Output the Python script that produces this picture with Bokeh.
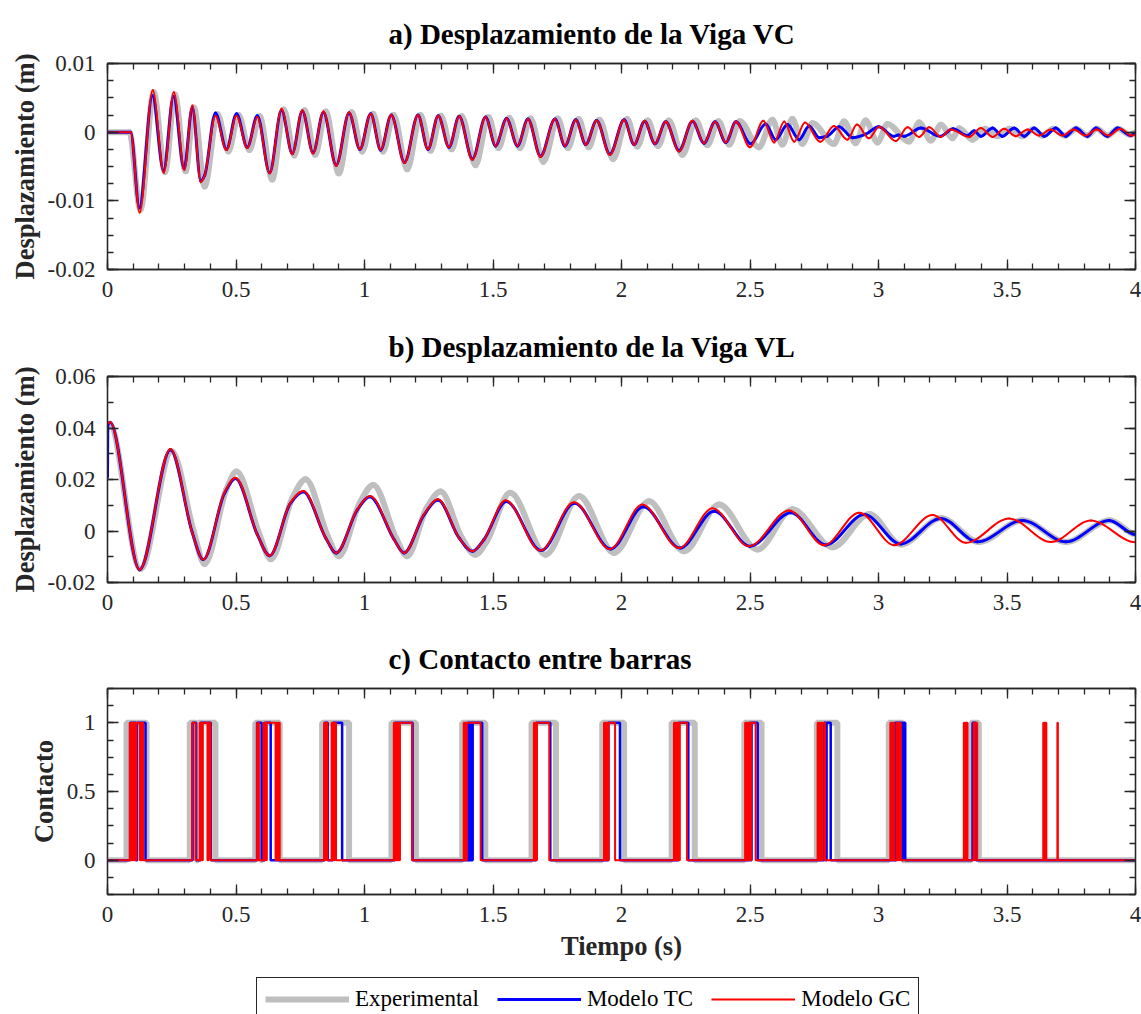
import numpy as np
from bokeh.plotting import figure
from bokeh.models import FixedTicker, LinearAxis, Range1d, Legend, LegendItem
from bokeh.layouts import column
from bokeh.embed import file_html
from bokeh.resources import INLINE

# ---------------- data ----------------
x_ticks = [0, 0.5, 1, 1.5, 2, 2.5, 3, 3.5, 4]
x_tick_labels = ["0", "0.5", "1", "1.5", "2", "2.5", "3", "3.5", "4"]

a_ticks = [-0.02, -0.01, 0, 0.01]
a_tick_labels = ["-0.02", "-0.01", "0", "0.01"]
b_ticks = [-0.02, 0, 0.02, 0.04, 0.06]
b_tick_labels = ["-0.02", "0", "0.02", "0.04", "0.06"]
c_ticks = [0, 0.5, 1]
c_tick_labels = ["0", "0.5", "1"]

# a) VC displacement: extrema (time s, displacement m)
a_exp_t = [0.000, 0.085, 0.128, 0.180, 0.224, 0.262, 0.304, 0.336, 0.378, 0.428,
           0.470, 0.510, 0.552, 0.592, 0.641, 0.686, 0.727, 0.767, 0.808, 0.849,
           0.900, 0.950, 0.991, 1.033, 1.072, 1.113, 1.166, 1.218, 1.257, 1.297,
           1.339, 1.378, 1.432, 1.482, 1.521, 1.563, 1.605, 1.646, 1.696, 1.752,
           1.791, 1.833, 1.872, 1.914, 1.967, 2.022, 2.061, 2.102, 2.142, 2.184,
           2.237, 2.289, 2.334, 2.377, 2.419, 2.460, 2.535, 2.587, 2.626, 2.665,
           2.704, 2.743, 2.827, 2.866, 2.911, 2.950, 2.996, 3.035, 3.119, 3.158,
           3.204, 3.243, 3.288, 3.314, 3.366, 3.415, 3.463, 3.510, 3.560, 3.600,
           3.638, 3.680, 3.725, 3.770, 3.812, 3.850, 3.892, 3.932, 3.980, 4.000]
a_exp_v = [0.0, 0.0, -0.0113, 0.0058, -0.0058, 0.0055, -0.0057, 0.0036, -0.0079, 0.0026,
           -0.0028, 0.0025, -0.0026, 0.0023, -0.0069, 0.0033, -0.0034, 0.0032, -0.0033, 0.0030,
           -0.0060, 0.0029, -0.0028, 0.0027, -0.0028, 0.0025, -0.0054, 0.0025, -0.0027, 0.0024,
           -0.0025, 0.0023, -0.0048, 0.0022, -0.0023, 0.0021, -0.0023, 0.0020, -0.0043, 0.0020,
           -0.0023, 0.0019, -0.0022, 0.0018, -0.0039, 0.0019, -0.0021, 0.0017, -0.0020, 0.0017,
           -0.0033, 0.0017, -0.0019, 0.0016, -0.0018, 0.0016, -0.0022, 0.0018, -0.0018, 0.0019,
           -0.0017, 0.0013, -0.0017, 0.00155, -0.0016, 0.0017, -0.0015, 0.0012, -0.00137, 0.0014,
           -0.00122, 0.00107, -0.00088, 0.00058, -0.0011, 0.0005, -0.0006, 0.0005, -0.0006, 0.0004,
           -0.0005, 0.0005, -0.0005, 0.0005, -0.0005, 0.0005, -0.0005, 0.0005, -0.0004, 0.0]

a_tc_t = [0.000, 0.090, 0.124, 0.175, 0.218, 0.257, 0.298, 0.330, 0.363, 0.378,
          0.420, 0.463, 0.502, 0.544, 0.583, 0.631, 0.677, 0.719, 0.758, 0.800,
          0.840, 0.890, 0.940, 0.982, 1.024, 1.063, 1.104, 1.156, 1.208, 1.247,
          1.287, 1.329, 1.368, 1.420, 1.471, 1.510, 1.553, 1.595, 1.636, 1.685,
          1.741, 1.780, 1.822, 1.861, 1.903, 1.955, 2.010, 2.049, 2.090, 2.130,
          2.172, 2.224, 2.276, 2.321, 2.364, 2.406, 2.445, 2.503, 2.561, 2.600,
          2.646, 2.691, 2.730, 2.769, 2.800, 2.847, 2.899, 2.950, 3.000, 3.060,
          3.078, 3.100, 3.165, 3.240, 3.290, 3.345, 3.372, 3.398, 3.444, 3.482,
          3.528, 3.567, 3.606, 3.645, 3.690, 3.729, 3.768, 3.813, 3.846, 3.891,
          3.930, 3.982, 4.000]
a_tc_v = [0.0, 0.0, -0.0110, 0.0053, -0.0056, 0.0052, -0.0053, 0.0036, -0.0071, -0.0063,
          0.0028, -0.0025, 0.0027, -0.0022, 0.0024, -0.0059, 0.0032, -0.0031, 0.0031, -0.0030,
          0.0029, -0.0048, 0.0028, -0.0025, 0.0027, -0.0026, 0.0025, -0.0044, 0.0025, -0.0025,
          0.0024, -0.0022, 0.0023, -0.0039, 0.0022, -0.0020, 0.0020, -0.0020, 0.0019, -0.0035,
          0.0019, -0.0020, 0.0018, -0.0018, 0.0017, -0.0032, 0.0018, -0.0018, 0.0016, -0.0017,
          0.0015, -0.0027, 0.0016, -0.0016, 0.0015, -0.0015, 0.0015, -0.0017, 0.0012, -0.0011,
          0.0011, -0.0011, 0.0009, -0.0008, -0.0006, 0.0008, -0.0008, -0.0003, 0.0008, -0.0006,
          -0.0004, -0.0006, 0.0006, -0.0006, 0.0005, -0.0005, 0.0002, -0.0006, 0.0006, -0.0006,
          0.0006, -0.0006, 0.0006, -0.0006, 0.0006, -0.0006, 0.0006, -0.0006, 0.0006, -0.0006,
          0.0006, -0.0005, -0.0001]

a_gc_t = [0.000, 0.090, 0.125, 0.176, 0.219, 0.258, 0.299, 0.330, 0.363, 0.378,
          0.420, 0.463, 0.502, 0.544, 0.583, 0.631, 0.677, 0.719, 0.758, 0.800,
          0.840, 0.890, 0.940, 0.982, 1.024, 1.063, 1.104, 1.156, 1.208, 1.247,
          1.287, 1.329, 1.368, 1.420, 1.471, 1.510, 1.553, 1.595, 1.636, 1.685,
          1.741, 1.780, 1.822, 1.861, 1.903, 1.955, 2.010, 2.049, 2.090, 2.130,
          2.172, 2.224, 2.276, 2.321, 2.364, 2.406, 2.445, 2.500, 2.552, 2.594,
          2.633, 2.672, 2.714, 2.773, 2.827, 2.879, 2.916, 2.963, 3.002, 3.067,
          3.113, 3.158, 3.197, 3.243, 3.281, 3.353, 3.398, 3.444, 3.489, 3.534,
          3.580, 3.625, 3.670, 3.715, 3.760, 3.805, 3.850, 3.895, 3.940, 3.985,
          4.000]
a_gc_v = [0.0, 0.0, -0.0117, 0.0061, -0.0059, 0.0058, -0.0055, 0.0039, -0.0073, -0.0063,
          0.0024, -0.0026, 0.0024, -0.0023, 0.0022, -0.0060, 0.0034, -0.0032, 0.0032, -0.0031,
          0.0030, -0.0049, 0.0029, -0.0025, 0.0027, -0.0026, 0.0025, -0.0045, 0.0025, -0.0025,
          0.0024, -0.0022, 0.0023, -0.0040, 0.0022, -0.0020, 0.0020, -0.0020, 0.0019, -0.0036,
          0.0019, -0.0020, 0.0018, -0.00185, 0.0017, -0.0033, 0.0018, -0.00185, 0.00165, -0.0017,
          0.00155, -0.0028, 0.00165, -0.0016, 0.00155, -0.0015, 0.00155, -0.0022, 0.00165, -0.0015,
          0.00155, -0.0014, 0.0014, -0.0014, 0.0009, -0.0011, 0.0011, -0.0009, 0.0008, -0.0013,
          0.0007, -0.0007, 0.0007, -0.0007, 0.0004, -0.0007, 0.0006, -0.0007, 0.0005, -0.0006,
          0.0004, -0.0005, 0.0004, -0.0005, 0.0004, -0.0005, 0.0004, -0.0005, 0.0005, -0.0005,
          -0.0004]

# b) VL displacement: extrema and shoulders (time s, displacement m)
b_exp_t = [0.000, 0.008, 0.128, 0.250, 0.335, 0.378, 0.462, 0.502, 0.590, 0.636,
           0.720, 0.771, 0.857, 0.900, 0.982, 1.034, 1.124, 1.166, 1.242, 1.296,
           1.378, 1.432, 1.476, 1.567, 1.705, 1.835, 1.971, 2.107, 2.243, 2.380,
           2.529, 2.665, 2.821, 2.964, 3.087, 3.245, 3.390, 3.560, 3.730, 3.900,
           4.000]
b_exp_v = [0.0405, 0.0415, -0.0148, 0.0310, 0.0000, -0.0128, 0.0160, 0.0231, -0.0010, -0.0110,
           0.0130, 0.0201, -0.0020, -0.0098, 0.0110, 0.0179, -0.0030, -0.0098, 0.0090, 0.0153,
           -0.0025, -0.0092, -0.0040, 0.0149, -0.0092, 0.0136, -0.0085, 0.0116, -0.0079, 0.0103,
           -0.0072, 0.0084, -0.0063, 0.0066, -0.0052, 0.0050, -0.0043, 0.0042, -0.0043, 0.0042,
           -0.0012]

b_tc_t = [0.000, 0.001, 0.010, 0.125, 0.245, 0.330, 0.3725, 0.455, 0.498, 0.583,
          0.631, 0.712, 0.762, 0.849, 0.890, 0.972, 1.021, 1.115, 1.154, 1.231,
          1.286, 1.368, 1.420, 1.465, 1.551, 1.687, 1.817, 1.958, 2.085, 2.228,
          2.360, 2.500, 2.659, 2.795, 2.944, 3.087, 3.2425, 3.385, 3.5605, 3.729,
          3.898, 4.000]
b_tc_v = [0.0210, 0.0410, 0.0422, -0.0150, 0.0316, -0.0007, -0.0111, 0.0146, 0.0204, -0.0014,
          -0.0096, 0.0108, 0.0152, -0.0027, -0.0085, 0.0082, 0.0133, -0.0033, -0.0085, 0.0062,
          0.0120, -0.0027, -0.0079, -0.0033, 0.0115, -0.0076, 0.0108, -0.0070, 0.0094, -0.0066,
          0.0077, -0.0059, 0.0071, -0.0054, 0.0064, -0.0050, 0.0049, -0.0042, 0.0041, -0.0042,
          0.0041, -0.0014]

b_gc_t = [0.000, 0.010, 0.125, 0.245, 0.330, 0.3725, 0.455, 0.498, 0.583, 0.631,
          0.712, 0.762, 0.849, 0.890, 0.972, 1.021, 1.115, 1.154, 1.231, 1.286,
          1.368, 1.420, 1.465, 1.549, 1.685, 1.815, 1.955, 2.081, 2.224, 2.354,
          2.496, 2.652, 2.788, 2.925, 3.061, 3.210, 3.340, 3.509, 3.671, 3.826,
          4.000]
b_gc_v = [0.0418, 0.0422, -0.0150, 0.0318, -0.0007, -0.0111, 0.0149, 0.0207, -0.0014, -0.0096,
          0.0110, 0.0155, -0.0027, -0.0085, 0.0084, 0.0136, -0.0033, -0.0085, 0.0064, 0.0123,
          -0.0027, -0.0079, -0.0033, 0.0119, -0.0076, 0.0112, -0.0070, 0.0103, -0.0066, 0.0088,
          -0.0059, 0.0080, -0.0055, 0.0071, -0.0055, 0.0062, -0.0046, 0.0049, -0.0043, 0.0041,
          -0.0044]

# c) contact between bars: contact intervals (start s, end s)
c_exp_on = [0.074, 0.320, 0.353, 0.575, 0.603, 0.835, 1.105, 1.380, 1.650, 1.925,
            2.195, 2.478, 2.760, 3.040, 3.360]
c_exp_off = [0.152, 0.345, 0.420, 0.596, 0.670, 0.940, 1.200, 1.470, 1.745, 2.010,
             2.285, 2.545, 2.840, 3.095, 3.390]

c_tc_on = [0.088, 0.115, 0.331, 0.362, 0.582, 0.612, 0.845, 0.877, 1.118, 1.401,
           1.405, 1.409, 1.413, 1.417, 1.421, 1.668, 1.949, 2.222, 2.499, 2.506,
           2.789, 2.798, 3.063, 3.069, 3.095, 3.366]
c_tc_off = [0.110, 0.148, 0.345, 0.402, 0.600, 0.635, 0.857, 0.913, 1.187, 1.403,
            1.407, 1.411, 1.415, 1.419, 1.458, 1.723, 1.994, 2.260, 2.503, 2.530,
            2.795, 2.814, 3.066, 3.092, 3.104, 3.379]

c_gc_on = [0.087, 0.091, 0.095, 0.099, 0.106, 0.112, 0.129, 0.136,
           0.329, 0.359, 0.363, 0.367, 0.371, 0.393,
           0.582, 0.586, 0.607, 0.611, 0.615, 0.620, 0.657, 0.661, 0.665,
           0.843, 0.847, 0.851, 0.872, 0.876, 0.880, 0.884,
           1.114, 1.118, 1.122, 1.126, 1.130, 1.134, 1.138,
           1.386, 1.390, 1.394, 1.398,
           1.659, 1.663, 1.667, 1.671,
           1.932, 1.936, 1.940, 1.944, 1.950,
           2.204, 2.208, 2.212, 2.216, 2.220, 2.227,
           2.481, 2.485, 2.489, 2.493, 2.497, 2.504,
           2.763, 2.767, 2.771, 2.775, 2.779, 2.783,
           3.046, 3.050, 3.054, 3.058, 3.071, 3.075, 3.079, 3.084,
           3.332, 3.336, 3.340, 3.370, 3.375,
           3.641, 3.645, 3.649, 3.696]
c_gc_off = [0.089, 0.093, 0.097, 0.1025, 0.109, 0.126, 0.133, 0.139,
            0.343, 0.361, 0.365, 0.369, 0.389, 0.401,
            0.584, 0.589, 0.609, 0.613, 0.618, 0.654, 0.659, 0.663, 0.670,
            0.845, 0.849, 0.856, 0.874, 0.878, 0.882, 0.889,
            1.116, 1.120, 1.124, 1.128, 1.132, 1.136, 1.185,
            1.388, 1.392, 1.396, 1.452,
            1.661, 1.665, 1.669, 1.719,
            1.934, 1.938, 1.942, 1.947, 1.975,
            2.206, 2.210, 2.214, 2.218, 2.224, 2.255,
            2.483, 2.487, 2.491, 2.495, 2.501, 2.522,
            2.765, 2.769, 2.773, 2.777, 2.781, 2.792,
            3.048, 3.052, 3.056, 3.061, 3.073, 3.077, 3.082, 3.087,
            3.334, 3.338, 3.346, 3.372, 3.384,
            3.643, 3.647, 3.653, 3.698]

series_names = ["Experimental", "Modelo TC", "Modelo GC"]

# ---------------- styling ----------------
FONT = "Liberation Serif"
AXC = "#262626"
GRAY = "#bfbfbf"
BLUE = "#0000ff"
RED = "#ff0000"
WIDTHS = {"exp": 6, "tc": 3, "gc": 2}


def style_axis(ax, tick_len):
    ax.axis_line_color = AXC
    ax.axis_line_width = 1.3
    ax.major_tick_line_color = AXC
    ax.minor_tick_line_color = AXC
    ax.major_tick_line_width = 1.3
    ax.minor_tick_line_width = 1.3
    ax.major_tick_in = tick_len
    ax.major_tick_out = 0
    ax.minor_tick_in = 6
    ax.minor_tick_out = 0
    ax.major_label_text_font = FONT
    ax.major_label_text_font_size = "23px"
    ax.major_label_text_color = AXC


def make_panel(title, ylabel, yr, yticks, ylabels, ystep, bottom, xlabel=None):
    p = figure(frame_width=1028, frame_height=206, x_range=Range1d(0, 4), y_range=Range1d(*yr),
               output_backend="svg", toolbar_location=None,
               min_border_left=107, min_border_right=6, min_border_top=63,
               min_border_bottom=bottom)
    p.grid.visible = False
    p.outline_line_color = AXC
    p.outline_line_width = 1.3
    p.outline_line_alpha = 1.0
    p.background_fill_color = "white"
    p.border_fill_color = "white"

    x_minor = list(np.round(np.arange(0, 4.0001, 0.1), 4))
    y_minor = list(np.round(np.arange(yr[0], yr[1] + ystep / 2, ystep), 6))
    xt = FixedTicker(ticks=x_ticks, minor_ticks=x_minor)
    yt = FixedTicker(ticks=yticks, minor_ticks=y_minor)

    xa = p.xaxis[0]
    ya = p.yaxis[0]
    xa.ticker = xt
    ya.ticker = yt
    style_axis(xa, 10)
    style_axis(ya, 11)
    xa.major_label_overrides = {v: s for v, s in zip(x_ticks, x_tick_labels)}
    ya.major_label_overrides = {v: s for v, s in zip(yticks, ylabels)}
    xa.major_label_standoff = 12
    ya.major_label_standoff = 12

    ya.axis_label = ylabel
    ya.axis_label_text_font = FONT
    ya.axis_label_text_font_style = "bold"
    ya.axis_label_text_font_size = "26.5px"
    ya.axis_label_text_color = AXC
    ya.axis_label_standoff = 5
    if xlabel:
        xa.axis_label = xlabel
        xa.axis_label_text_font = FONT
        xa.axis_label_text_font_style = "bold"
        xa.axis_label_text_font_size = "26.5px"
        xa.axis_label_text_color = AXC
        xa.axis_label_standoff = 6

    # mirrored tick marks on the top and right edges (no labels)
    top_ax = LinearAxis(ticker=xt)
    right_ax = LinearAxis(ticker=yt)
    for ax, tl in ((top_ax, 10), (right_ax, 11)):
        style_axis(ax, tl)
        ax.major_label_text_color = None
        ax.major_label_standoff = 0
    p.add_layout(top_ax, "above")
    p.add_layout(right_ax, "right")

    p.title.text = title
    p.title.text_font = FONT
    p.title.text_font_style = "bold"
    p.title.text_font_size = "29px"
    p.title.text_color = "black"
    p.title.align = "left"
    p.title.offset = 281
    p.title.vertical_align = "middle"
    p.title.standoff = 26
    return p


def smooth(p, t, v, color, width):
    t = np.asarray(t, float)
    v = np.asarray(v, float)
    dt = np.diff(t)
    s = np.diff(v) / dt
    m = np.zeros_like(t)
    same = s[:-1] * s[1:] > 0
    inner = np.zeros(len(t) - 2)
    inner[same] = 2.0 * s[:-1][same] * s[1:][same] / (s[:-1][same] + s[1:][same])
    m[1:-1] = inner
    return p.bezier(x0=t[:-1], y0=v[:-1], x1=t[1:], y1=v[1:],
                    cx0=t[:-1] + dt / 3, cy0=v[:-1] + m[:-1] * dt / 3,
                    cx1=t[1:] - dt / 3, cy1=v[1:] - m[1:] * dt / 3,
                    line_color=color, line_width=width, line_cap="round")


def steps(on, off):
    xs, ys = [0.0], [0.0]
    for a, b in zip(on, off):
        xs += [a, a, b, b]
        ys += [0, 1, 1, 0]
    xs.append(4.0)
    ys.append(0.0)
    return xs, ys


# ---------------- panel a ----------------
pa = make_panel("a) Desplazamiento de la Viga VC", "Desplazamiento (m)",
                (-0.02, 0.01), a_ticks, a_tick_labels, 0.0025, 44)
smooth(pa, a_exp_t, a_exp_v, GRAY, WIDTHS["exp"])
smooth(pa, a_tc_t, a_tc_v, BLUE, WIDTHS["tc"])
smooth(pa, a_gc_t, a_gc_v, RED, WIDTHS["gc"])

# ---------------- panel b ----------------
pb = make_panel("b) Desplazamiento de la Viga VL", "Desplazamiento (m)",
                (-0.02, 0.06), b_ticks, b_tick_labels, 0.01, 43)
smooth(pb, b_exp_t, b_exp_v, GRAY, WIDTHS["exp"])
smooth(pb, b_tc_t, b_tc_v, BLUE, WIDTHS["tc"])
smooth(pb, b_gc_t, b_gc_v, RED, WIDTHS["gc"])

# ---------------- panel c ----------------
pc = make_panel("c) Contacto entre barras", "Contacto",
                (-0.25, 1.25), c_ticks, c_tick_labels, 0.125, 82, xlabel="Tiempo (s)")
ex, ey = steps(c_exp_on, c_exp_off)
tx, ty = steps(c_tc_on, c_tc_off)
gx, gy = steps(c_gc_on, c_gc_off)
pc.line(ex, ey, line_color=GRAY, line_width=WIDTHS["exp"])
pc.line(tx, ty, line_color=BLUE, line_width=2.5)
pc.line(gx, gy, line_color=RED, line_width=WIDTHS["gc"])

# ---------------- legend strip (bottom of the page) ----------------
# same contact series, drawn in a strip whose y range (2..3) leaves them out of view:
# they only provide the line samples for the legend.
pl = figure(frame_width=1141, frame_height=38, x_range=Range1d(0, 4), y_range=Range1d(2, 3),
            output_backend="svg", toolbar_location=None,
            min_border_left=0, min_border_right=0, min_border_top=0, min_border_bottom=0)
pl.axis.visible = False
pl.grid.visible = False
pl.outline_line_color = None
pl.background_fill_color = "white"
pl.border_fill_color = "white"
l_exp = pl.line(ex, ey, line_color=GRAY, line_width=WIDTHS["exp"])
l_tc = pl.line(tx, ty, line_color=BLUE, line_width=WIDTHS["tc"])
l_gc = pl.line(gx, gy, line_color=RED, line_width=WIDTHS["gc"])
legend = Legend(items=[LegendItem(label=series_names[0], renderers=[l_exp]),
                       LegendItem(label=series_names[1], renderers=[l_tc]),
                       LegendItem(label=series_names[2], renderers=[l_gc])],
                orientation="horizontal", location=(256, -7),
                padding=8, margin=0, spacing=18,
                glyph_width=84, glyph_height=24, label_standoff=6, label_height=24,
                label_text_font=FONT, label_text_font_size="23px", label_text_color="black",
                border_line_color=AXC, border_line_width=1, border_line_alpha=1.0,
                background_fill_color="white", background_fill_alpha=1.0)
pl.add_layout(legend, "center")

layout = column(pa, pb, pc, pl, spacing=0)
open("out.html", "w").write(file_html(layout, INLINE))
